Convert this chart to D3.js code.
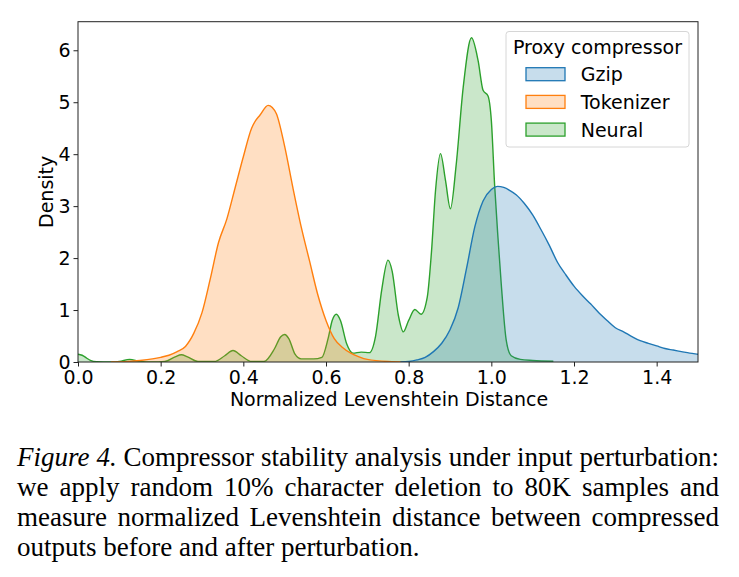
<!DOCTYPE html>
<html><head><meta charset="utf-8">
<script src="https://cdn.jsdelivr.net/npm/d3@7"></script>
<style>body{margin:0;background:#fff} svg{display:block}</style>
</head><body><svg id="c" width="739" height="577"></svg>
<script>
// ---- data ----
const xTicks = [0, 0.2, 0.4, 0.6, 0.8, 1.0, 1.2, 1.4];
const yTicks = [0, 1, 2, 3, 4, 5, 6];
const seriesNames = ["Gzip", "Tokenizer", "Neural"];
const seriesColors = ["#1f77b4", "#ff7f0e", "#2ca02c"];

const gzipX = [0.78,0.80,0.82,0.84,0.86,0.88,0.90,0.92,0.94,0.96,0.98,1.00,1.015,1.03,1.045,1.06,1.08,1.10,1.12,1.14,1.16,1.18,1.20,1.22,1.24,1.26,1.28,1.30,1.32,1.34,1.36,1.38,1.40,1.42,1.44,1.46,1.48,1.50,1.52];
const gzipY = [0.0,0.01,0.04,0.09,0.2,0.36,0.62,1.05,1.8,2.6,3.1,3.32,3.38,3.36,3.3,3.22,3.05,2.83,2.55,2.25,1.92,1.68,1.46,1.28,1.12,0.95,0.8,0.66,0.58,0.49,0.41,0.36,0.31,0.26,0.23,0.2,0.17,0.15,0.13];

const tokX = [0.08,0.12,0.15,0.18,0.20,0.22,0.24,0.26,0.28,0.30,0.32,0.34,0.36,0.38,0.40,0.42,0.43,0.44,0.46,0.47,0.48,0.50,0.52,0.54,0.56,0.58,0.60,0.62,0.64,0.66,0.68,0.70,0.75,0.80];
const tokY = [0.0,0.01,0.03,0.06,0.09,0.13,0.2,0.3,0.55,0.95,1.6,2.3,2.75,3.35,3.95,4.5,4.65,4.75,4.94,4.9,4.78,4.15,3.35,2.6,1.95,1.3,0.8,0.45,0.28,0.17,0.1,0.05,0.01,0.0];

const neuX = [-0.02,0.0,0.01,0.02,0.03,0.045,0.08,0.10,0.125,0.15,0.18,0.21,0.235,0.25,0.265,0.29,0.33,0.355,0.375,0.395,0.42,0.45,0.475,0.49,0.50,0.51,0.525,0.54,0.57,0.59,0.605,0.615,0.625,0.635,0.65,0.665,0.685,0.705,0.72,0.735,0.75,0.76,0.775,0.787,0.80,0.815,0.83,0.845,0.855,0.865,0.877,0.889,0.901,0.915,0.932,0.952,0.968,0.98,0.992,1.0,1.008,1.016,1.024,1.036,1.048,1.07,1.10,1.15];
const neuY = [0.16,0.15,0.13,0.08,0.03,0.005,0.0,0.01,0.05,0.01,0.0,0.01,0.1,0.14,0.1,0.01,0.01,0.12,0.22,0.12,0.01,0.01,0.25,0.48,0.53,0.45,0.15,0.06,0.06,0.09,0.45,0.8,0.92,0.8,0.35,0.17,0.19,0.18,0.5,1.4,1.96,1.75,0.9,0.58,0.8,1.01,0.92,1.25,2.1,3.3,4.01,3.5,2.95,3.8,5.29,6.24,5.8,5.23,5.12,4.65,3.4,2.4,1.5,0.42,0.12,0.05,0.03,0.015];

const captionLines = [
  "Figure 4. Compressor stability analysis under input perturbation:",
  "we apply random 10% character deletion to 80K samples and",
  "measure normalized Levenshtein distance between compressed",
  "outputs before and after perturbation."
];

// ---- chart ----
const svg = d3.select("#c");
const L = 78, R = 698, T = 21.7, B = 362;
const x = d3.scaleLinear().domain([0, 1.5]).range([L, R]);
const y = d3.scaleLinear().domain([0, 6.55]).range([B, T]);
const font = "DejaVu Sans, sans-serif";
const fs = 19;

svg.append("clipPath").attr("id", "clip").append("rect")
  .attr("x", L).attr("y", T).attr("width", R - L).attr("height", B - T);

const seriesData = [
  { name: "Neural", xs: neuX, ys: neuY, color: seriesColors[2] },
  { name: "Tokenizer", xs: tokX, ys: tokY, color: seriesColors[1] },
  { name: "Gzip", xs: gzipX, ys: gzipY, color: seriesColors[0] }
];

const plot = svg.append("g").attr("clip-path", "url(#clip)");
seriesData.forEach(s => {
  const pts = s.xs.map((v, i) => [v, s.ys[i]]);
  const area = d3.area().x(d => x(d[0])).y0(y(0)).y1(d => y(d[1])).curve(d3.curveMonotoneX);
  const line = d3.line().x(d => x(d[0])).y(d => y(d[1])).curve(d3.curveMonotoneX);
  plot.append("path").attr("d", area(pts)).attr("fill", s.color).attr("fill-opacity", 0.25).attr("stroke", "none");
  plot.append("path").attr("d", line(pts)).attr("fill", "none").attr("stroke", s.color).attr("stroke-width", 1.4);
});

// axes
const xAxis = svg.append("g").attr("transform", `translate(0,${B})`)
  .call(d3.axisBottom(x).tickValues(xTicks).tickFormat(d3.format(".1f")).tickSize(4.5).tickPadding(4));
const yAxis = svg.append("g").attr("transform", `translate(${L},0)`)
  .call(d3.axisLeft(y).tickValues(yTicks).tickFormat(d3.format("d")).tickSize(4.5).tickPadding(3));
[xAxis, yAxis].forEach(a => {
  a.select(".domain").remove();
  a.selectAll("line").attr("stroke", "#222").attr("stroke-width", 1);
  a.selectAll("text").attr("font-family", font).attr("font-size", fs).attr("fill", "#000");
});

svg.append("rect").attr("x", L).attr("y", T).attr("width", R - L).attr("height", B - T)
  .attr("fill", "none").attr("stroke", "#222").attr("stroke-width", 1);

svg.append("text").attr("x", (L + R) / 2 + 1).attr("y", 406).attr("text-anchor", "middle")
  .attr("font-family", font).attr("font-size", fs).text("Normalized Levenshtein Distance");
svg.append("text").attr("transform", `translate(53,${(T + B) / 2}) rotate(-90)`).attr("text-anchor", "middle")
  .attr("font-family", font).attr("font-size", fs).text("Density");

// legend
const lg = svg.append("g");
lg.append("rect").attr("x", 506).attr("y", 31.5).attr("width", 183).attr("height", 115.5).attr("rx", 3)
  .attr("fill", "#fff").attr("fill-opacity", 0.8).attr("stroke", "#d6d6d6").attr("stroke-width", 1);
lg.append("text").attr("x", 513).attr("y", 54).attr("font-family", font).attr("font-size", fs).text("Proxy compressor");
seriesNames.forEach((n, i) => {
  const yy = 67.7 + i * 27.7;
  lg.append("rect").attr("x", 526).attr("y", yy).attr("width", 39).attr("height", 13)
    .attr("fill", seriesColors[i]).attr("fill-opacity", 0.25).attr("stroke", seriesColors[i]).attr("stroke-width", 1.3);
  lg.append("text").attr("x", 580.7).attr("y", yy + 13.5).attr("font-family", font).attr("font-size", fs).text(n);
});

// caption
const capFont = "Liberation Serif, Times New Roman, serif";
const capL = 17, capR = 719;
captionLines.forEach((ln, i) => {
  const t = svg.append("text").attr("x", capL).attr("y", 466 + i * 30)
    .attr("font-family", capFont).attr("font-size", 27).attr("fill", "#000");
  if (i === 0) {
    t.append("tspan").attr("font-style", "italic").text("Figure 4.");
    t.append("tspan").text(ln.slice("Figure 4.".length));
  } else {
    t.text(ln);
  }
  if (i < captionLines.length - 1) {
    const w = t.node().getComputedTextLength();
    const gaps = ln.split(" ").length - 1;
    t.attr("word-spacing", ((capR - capL) - w) / gaps);
  }
});
</script></body></html>
